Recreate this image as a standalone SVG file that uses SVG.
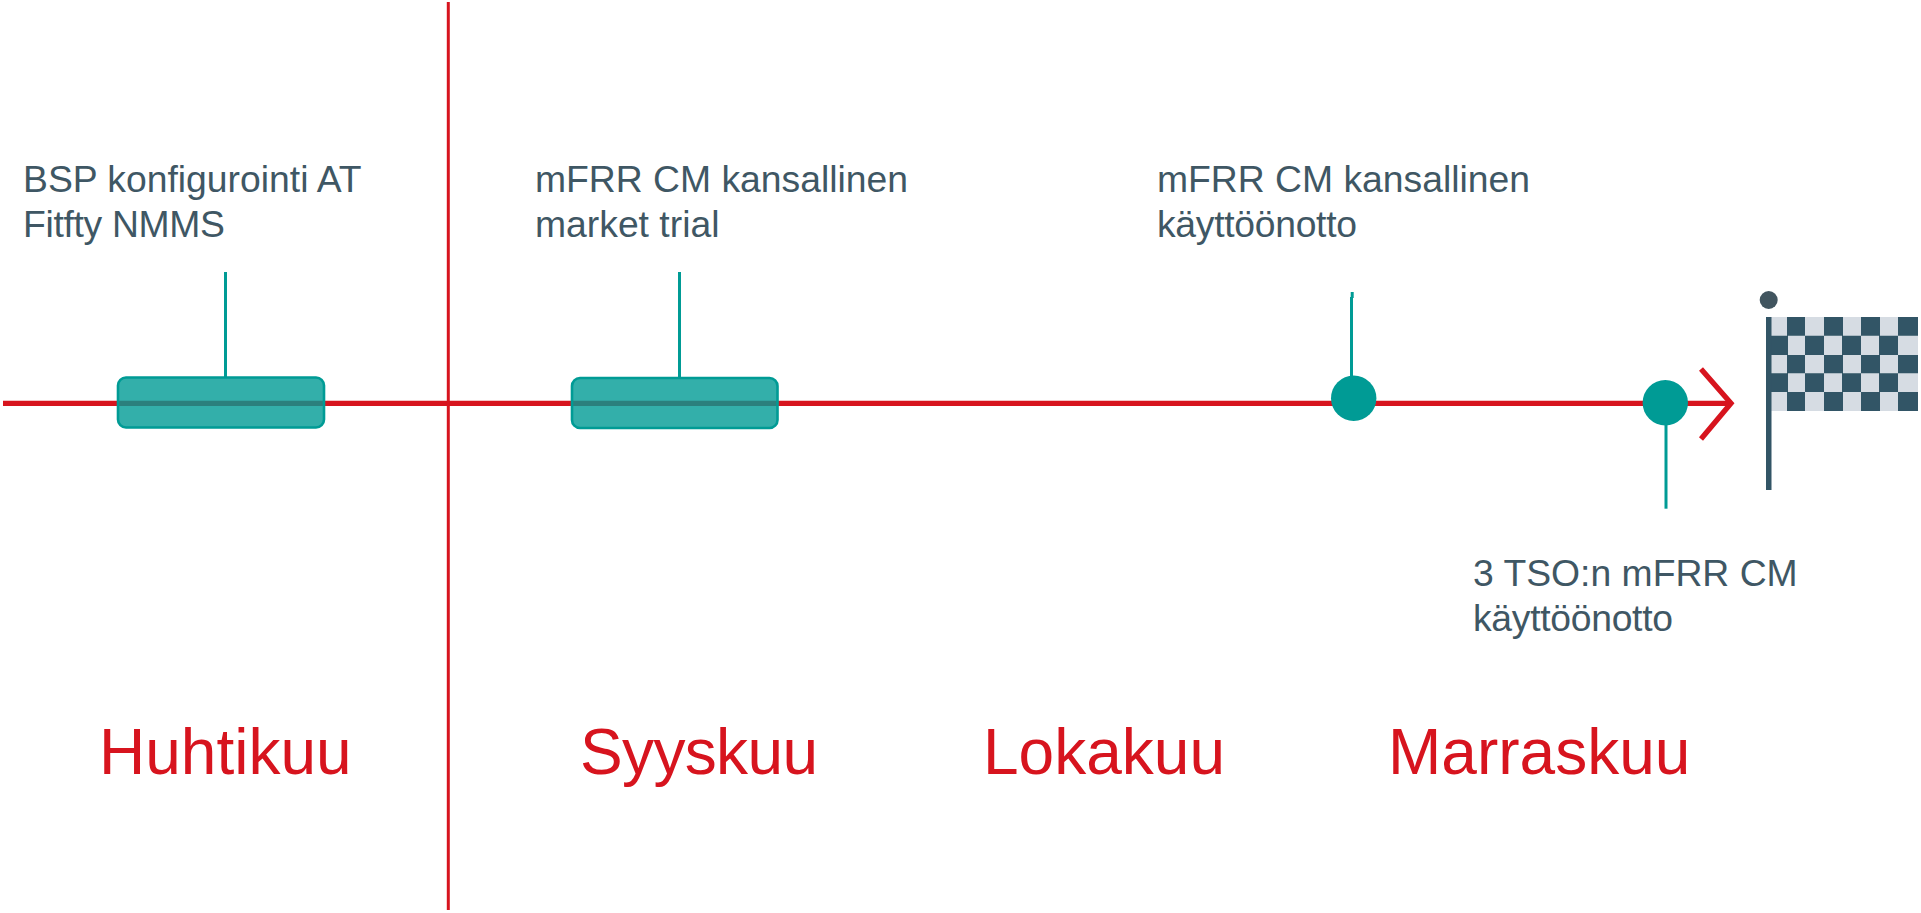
<svg xmlns="http://www.w3.org/2000/svg" width="1921" height="913" viewBox="0 0 1921 913">
<style>
.lbl{font-family:"Liberation Sans",Arial,sans-serif;font-size:37.3px;fill:#3f5764}
.mon{font-family:"Liberation Sans",Arial,sans-serif;font-size:64px;fill:#d7141e}
.red{stroke:#d7141e;fill:none}
.stem{stroke:#009b95;stroke-width:3;fill:none}
.bar{fill:#009b95;fill-opacity:.8;stroke:#009b95;stroke-width:2.6}
.dot{fill:#009b95}
.dk{fill:#325566}
.lt{fill:#d6dce3}
</style>
<rect width="1921" height="913" fill="#fff"/>
<g id="connectors">
<line class="red" x1="3" y1="403.3" x2="1730" y2="403.3" stroke-width="5.3"/>
<line class="red" x1="448.3" y1="2" x2="448.3" y2="910" stroke-width="3"/>
<polyline class="red" points="1701,369 1731,403.3 1701,439" stroke-width="5.3"/>
<line class="stem" x1="225.5" y1="272" x2="225.5" y2="377"/>
<line class="stem" x1="679.5" y1="272" x2="679.5" y2="378"/>
<line class="stem" x1="1351.5" y1="297" x2="1351.5" y2="380" stroke-width="3.6"/>
<line class="stem" x1="1352.2" y1="292" x2="1352.2" y2="298" stroke-width="2.4"/>
<line class="stem" x1="1666" y1="420" x2="1666" y2="508.7" stroke-width="3.6"/>
</g>
<g id="bar-huhtikuu"><rect class="bar" x="118" y="377.5" width="206" height="50" rx="8"/></g>
<g id="bar-syyskuu"><rect class="bar" x="572" y="378" width="205.500" height="50" rx="8"/></g>
<g id="dot-lokakuu"><circle class="dot" cx="1353.7" cy="398.3" r="22.7"/></g>
<g id="dot-marraskuu"><circle class="dot" cx="1665.3" cy="402.7" r="22.7"/></g>
<g id="flag">
<circle cx="1768.7" cy="300" r="9" fill="#41555f"/>
<rect class="lt" x="1771" y="317" width="147" height="94"/>
<path class="dk" d="M1787 317h18v18.7h-18zM1824 317h19v18.7h-19zM1861 317h19v18.7h-19zM1898 317h20v18.7h-20zM1771 335.700h17v19.300h-17zM1805 335.700h19v19.300h-19zM1842 335.700h19v19.300h-19zM1879 335.700h19v19.300h-19zM1787 355h18v18.300h-18zM1824 355h19v18.300h-19zM1861 355h19v18.300h-19zM1898 355h20v18.300h-20zM1771 373.300h17v18.700h-17zM1805 373.300h19v18.700h-19zM1842 373.300h19v18.700h-19zM1879 373.300h19v18.700h-19zM1787 392h18v19h-18zM1824 392h19v19h-19zM1861 392h19v19h-19zM1898 392h20v19h-20z"/>
<rect class="dk" x="1766" y="317" width="5.500" height="173"/>
</g>
<g id="label-bsp"><text class="lbl" x="23" y="191.700">BSP konfigurointi AT</text><text class="lbl" x="23" y="236.700" textLength="202">Fitfty NMMS</text></g>
<g id="label-trial"><text class="lbl" x="535" y="191.700">mFRR CM kansallinen</text><text class="lbl" x="535" y="236.700">market trial</text></g>
<g id="label-kaytto"><text class="lbl" x="1157" y="191.700">mFRR CM kansallinen</text><text class="lbl" x="1157" y="236.700" textLength="200">käyttöönotto</text></g>
<g id="label-tso"><text class="lbl" x="1473" y="585.500">3 TSO:n mFRR CM</text><text class="lbl" x="1473" y="630.500" textLength="200">käyttöönotto</text></g>
<g id="months">
<text class="mon" x="99" y="774">Huhtikuu</text>
<text class="mon" x="580" y="774" textLength="238">Syyskuu</text>
<text class="mon" x="983" y="774">Lokakuu</text>
<text class="mon" x="1388" y="774">Marraskuu</text>
</g>
</svg>
